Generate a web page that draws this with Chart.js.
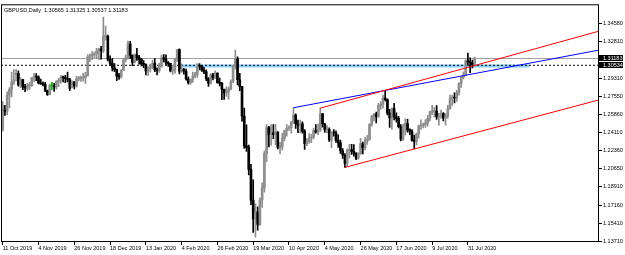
<!DOCTYPE html>
<html>
<head>
<meta charset="utf-8">
<script src="https://cdn.jsdelivr.net/npm/chart.js@4.4.1/dist/chart.umd.min.js"></script>
<style>
  html, body { margin: 0; padding: 0; background: #fff; }
</style>
</head>
<body>
<canvas id="chart" width="625" height="255"></canvas>
<script>
// GBPUSD daily, 11 Oct 2019 .. 5 Aug 2020 (one entry per bar)
const open = [
  1.2437,1.2620,1.2614,1.2769,1.2822,1.2893,1.2960,1.2976,1.2866,1.2916,1.2845,1.2830,1.2858,1.2859,1.2935,1.2942,
  1.2941,1.2885,1.2876,1.2872,1.2813,1.2772,1.2858,1.2858,1.2846,1.2897,1.2910,1.2941,1.2936,1.2925,1.2917,1.2840,1.2895,1.2855,1.2924,1.2925,
  1.2932,1.2935,1.2954,1.3133,1.3146,1.3152,1.3166,1.3192,1.3210,1.3190,1.3330,1.3331,1.3110,1.3074,1.3030,1.3012,1.2950,1.2943,1.3005,1.3106,1.3127,
  1.3258,1.3150,1.3080,1.3153,1.3131,1.3110,1.3067,1.3062,1.2999,1.3022,1.3035,1.3073,1.3010,1.3001,1.3046,1.3125,1.3113,1.3075,1.3072,1.3000,1.3005,1.3110,
  1.3203,1.2997,1.3014,1.2996,1.2922,1.2888,1.2918,1.2950,1.2966,1.3048,1.3044,1.3006,1.2990,1.2925,1.2883,1.2962,1.2935,1.2977,1.2888,1.2880,
  1.2822,1.2788,1.2795,1.2826,1.2899,1.3045,1.3114,1.2915,1.2849,1.2567,1.2282,1.2265,1.2057,1.1763,1.1583,1.1650,1.1530,1.1764,1.1880,1.2210,1.2456,1.2390,
  1.2406,1.2392,1.2414,1.2268,1.2273,1.2355,1.2429,1.2451,1.2458,1.2502,1.2576,1.2491,1.2480,1.2493,1.2421,1.2303,1.2320,1.2357,1.2367,1.2428,1.2413,1.2435,1.2590,
  1.2491,1.2435,1.2441,1.2340,1.2407,1.2405,1.2335,1.2310,1.2235,1.2195,1.2115,1.2240,1.2246,1.2230,1.2210,1.2165,1.2207,1.2305,1.2265,1.2330,
  1.2345,1.2485,1.2565,1.2585,1.2565,1.2670,1.2680,1.2740,1.2725,1.2595,1.2550,1.2640,1.2560,1.2545,1.2465,1.2345,1.2475,1.2495,1.2435,1.2420,1.2335,1.2325,
  1.2400,1.2475,1.2478,1.2485,1.2500,1.2545,1.2605,1.2610,1.2615,1.2560,1.2566,1.2590,1.2550,1.2570,1.2640,1.2730,1.2745,1.2740,1.2795,1.2880,1.2940,1.2960,1.3095,1.3085,1.3076,1.30565
];
const high = [
  1.2708,1.2669,1.2800,1.2841,1.2988,1.3013,1.3012,1.3000,1.2936,1.2920,1.2872,1.2880,1.2889,1.2937,1.2976,1.2974,
  1.2953,1.2922,1.2896,1.2891,1.2816,1.2874,1.2890,1.2880,1.2906,1.2928,1.2956,1.2950,1.2958,1.2989,1.2928,1.2904,1.2898,1.2947,1.2947,1.2949,
  1.2976,1.2986,1.3155,1.3164,1.3185,1.3180,1.3215,1.3213,1.3234,1.3514,1.3428,1.3343,1.3145,1.3117,1.3070,1.3017,1.2976,1.3013,1.3119,1.3152,1.3285,
  1.3283,1.3151,1.3164,1.3215,1.3148,1.3121,1.3098,1.3067,1.3042,1.3064,1.3104,1.3118,1.3028,1.3074,1.3152,1.3155,1.3153,1.3089,1.3072,1.3053,1.3119,1.3206,
  1.3210,1.3068,1.3025,1.3017,1.2943,1.2924,1.2988,1.2986,1.3069,1.3070,1.3050,1.3034,1.3011,1.2935,1.2975,1.2977,1.3000,1.2983,1.2932,1.2890,
  1.2826,1.2846,1.2846,1.2915,1.3052,1.3200,1.3135,1.2976,1.2853,1.2644,1.2483,1.2289,1.2106,1.1958,1.1728,1.1698,1.1784,1.1929,1.2235,1.2487,1.2470,1.2485,
  1.2487,1.2488,1.2420,1.2316,1.2402,1.2432,1.2487,1.2475,1.2516,1.2647,1.2588,1.2530,1.2530,1.2513,1.2437,1.2352,1.2400,1.2393,1.2452,1.2485,1.2490,1.2643,1.2592,
  1.2497,1.2475,1.2455,1.2417,1.2437,1.2427,1.2388,1.2338,1.2255,1.2208,1.2254,1.2296,1.2297,1.2295,1.2219,1.2218,1.2355,1.2318,1.2365,1.2384,
  1.2495,1.2574,1.2594,1.2606,1.2688,1.2707,1.2767,1.2813,1.2732,1.2632,1.2647,1.2688,1.2598,1.2565,1.2487,1.2490,1.2542,1.2535,1.2445,1.2437,1.2385,1.2405,
  1.2482,1.2532,1.2501,1.2533,1.2574,1.2615,1.2669,1.2651,1.2667,1.2594,1.2625,1.2600,1.2593,1.2670,1.2768,1.2768,1.2790,1.2813,1.2887,1.2946,1.2991,1.3107,1.3170,1.3124,1.3102,1.31325
];
const low = [
  1.2423,1.2574,1.2580,1.2646,1.2750,1.2870,1.2904,1.2853,1.2840,1.2819,1.2800,1.2812,1.2820,1.2850,1.2896,1.2907,
  1.2875,1.2870,1.2855,1.2800,1.2766,1.2772,1.2820,1.2803,1.2825,1.2852,1.2883,1.2894,1.2886,1.2893,1.2811,1.2838,1.2828,1.2844,1.2904,1.2900,
  1.2902,1.2880,1.2948,1.3088,1.3106,1.3125,1.3118,1.3107,1.3111,1.3174,1.3294,1.3094,1.3055,1.3000,1.2993,1.2905,1.2917,1.2931,1.3002,1.3086,1.3112,
  1.3118,1.3050,1.3075,1.3101,1.3064,1.3047,1.3030,1.2960,1.2957,1.2990,1.3020,1.2993,1.2962,1.2986,1.3036,1.3085,1.3059,1.3043,1.2991,1.2966,1.2975,1.3087,
  1.2970,1.2985,1.2968,1.2912,1.2873,1.2870,1.2890,1.2933,1.2937,1.3008,1.2995,1.2973,1.2905,1.2850,1.2874,1.2913,1.2925,1.2883,1.2857,1.2725,
  1.2726,1.2756,1.2730,1.2818,1.2888,1.3015,1.2866,1.2810,1.2518,1.2258,1.2230,1.2005,1.1720,1.1453,1.1409,1.1475,1.1520,1.1694,1.1840,1.2130,1.2273,1.2288,
  1.2352,1.2294,1.2253,1.2206,1.2242,1.2329,1.2376,1.2430,1.2403,1.2497,1.2450,1.2408,1.2405,1.2403,1.2247,1.2285,1.2308,1.2313,1.2349,1.2403,1.2390,1.2420,1.2460,
  1.2410,1.2405,1.2325,1.2266,1.2376,1.2315,1.2268,1.2209,1.2161,1.2076,1.2083,1.2164,1.2200,1.2183,1.2151,1.2155,1.2200,1.2206,1.2243,1.2295,
  1.2337,1.2470,1.2522,1.2502,1.2555,1.2632,1.2643,1.2712,1.2579,1.2458,1.2441,1.2531,1.2508,1.2453,1.2330,1.2335,1.2386,1.2413,1.2390,1.2328,1.2252,1.2290,
  1.2355,1.2440,1.2455,1.2458,1.2474,1.2521,1.2580,1.2560,1.2535,1.2480,1.2545,1.2521,1.2479,1.2545,1.2630,1.2670,1.2693,1.2708,1.2767,1.2841,1.2924,1.2955,1.3052,1.2982,1.3028,1.30537
];
const close = [
  1.2670,1.2614,1.2769,1.2822,1.2893,1.2914,1.2976,1.2866,1.2916,1.2845,1.2837,1.2858,1.2859,1.2935,1.2942,1.2941,
  1.2885,1.2876,1.2872,1.2813,1.2772,1.2858,1.2858,1.2846,1.2897,1.2910,1.2941,1.2936,1.2925,1.2917,1.2833,1.2895,1.2855,1.2924,1.2925,1.2932,
  1.2935,1.2954,1.3133,1.3146,1.3152,1.3166,1.3192,1.3210,1.3190,1.3330,1.3331,1.3110,1.3074,1.3030,1.3012,1.2950,1.2943,1.3005,1.3106,1.3127,1.3258,
  1.3150,1.3080,1.3153,1.3131,1.3110,1.3067,1.3062,1.2999,1.3022,1.3035,1.3073,1.3010,1.3001,1.3046,1.3125,1.3113,1.3075,1.3072,1.3000,1.3005,1.3110,1.3203,
  1.2997,1.3014,1.2996,1.2922,1.2888,1.2918,1.2950,1.2966,1.3048,1.3044,1.3006,1.2990,1.2925,1.2883,1.2962,1.2935,1.2977,1.2888,1.2880,1.2822,
  1.2788,1.2795,1.2826,1.2899,1.3045,1.3114,1.2915,1.2849,1.2567,1.2282,1.2265,1.2057,1.1763,1.1583,1.1650,1.1530,1.1764,1.1880,1.2210,1.2456,1.2390,1.2406,
  1.2392,1.2414,1.2268,1.2273,1.2355,1.2429,1.2451,1.2458,1.2502,1.2576,1.2491,1.2480,1.2493,1.2421,1.2303,1.2320,1.2357,1.2367,1.2428,1.2413,1.2435,1.2590,1.2491,
  1.2435,1.2441,1.2340,1.2407,1.2405,1.2335,1.2310,1.2235,1.2195,1.2115,1.2240,1.2246,1.2230,1.2210,1.2165,1.2207,1.2305,1.2265,1.2330,1.2345,
  1.2485,1.2565,1.2585,1.2565,1.2670,1.2680,1.2740,1.2725,1.2595,1.2550,1.2640,1.2560,1.2545,1.2465,1.2345,1.2475,1.2495,1.2435,1.2420,1.2335,1.2325,1.2400,
  1.2475,1.2478,1.2485,1.2500,1.2545,1.2605,1.2610,1.2615,1.2560,1.2566,1.2590,1.2550,1.2570,1.2640,1.2730,1.2745,1.2740,1.2795,1.2880,1.2940,1.2960,1.3095,1.3085,1.3076,1.3056,1.31183
];

// x axis: bar number of each date label and the label itself
const tickBars = [0, 16, 32, 48, 64, 80, 96, 112, 128, 144, 160, 176, 192, 208];
const tickLabels = ['11 Oct 2019', '4 Nov 2019', '26 Nov 2019', '18 Dec 2019', '13 Jan 2020', '4 Feb 2020',
  '26 Feb 2020', '19 Mar 2020', '10 Apr 2020', '4 May 2020', '26 May 2020', '17 Jun 2020', '9 Jul 2020', '31 Jul 2020'];
// price scale labels on the right
const priceTicks = [1.13710, 1.15410, 1.17160, 1.18910, 1.20650, 1.22360, 1.24110, 1.25860, 1.27550, 1.29310, 1.32810, 1.34580];

const xMin = -0.76, xMax = 266.6;
const yMin = 1.1362, yMax = 1.3637;

const bidPrice = 1.31183;
const markPrice = 1.30534;
const headerText = 'GBPUSD,Daily  1.30565 1.31325 1.30537 1.31183';

// drawn objects (bar number, price)
const zoneLine = [{x: 80, y: 1.3046}, {x: 235.5, y: 1.3046}];
const blueTrend = [{x: 130, y: 1.2647}, {x: xMax, y: 1.3199}];
const redUpper = [{x: 142, y: 1.2643}, {x: xMax, y: 1.3380}];
const redLower = [{x: 153, y: 1.2076}, {x: xMax, y: 1.2722}];

const upColor = '#8e8e8e', downColor = '#000000', dojiColor = '#00c000';

function barColor(i) {
  if (close[i] > open[i]) return upColor;
  if (close[i] < open[i]) return downColor;
  return dojiColor;
}

const wickData = high.map((h, i) => ({x: i, y: [low[i], h]}));
const bodyData = open.map((o, i) => ({x: i, y: [o, close[i]]}));
const colors = close.map((c, i) => barColor(i));

function lineSet(data, color, width, dash, order) {
  return {
    type: 'line', data: data, borderColor: color, borderWidth: width,
    borderDash: dash, pointRadius: 0, fill: false, tension: 0, order: order
  };
}

const framePlugin = {
  id: 'frame',
  afterDraw(chart) {
    const {ctx, chartArea: a, scales} = chart;
    ctx.save();
    ctx.strokeStyle = '#000';
    ctx.lineWidth = 1;
    ctx.strokeRect(a.left + 0.5, a.top + 0.5, a.right - a.left - 1, a.bottom - a.top - 1);

    ctx.font = '5.5px "Liberation Sans"';
    ctx.fillStyle = '#000';
    ctx.textBaseline = 'middle';
    ctx.textAlign = 'left';
    ctx.fillText(headerText, a.left + 3, a.top + 6);

    // price boxes on the right scale
    [bidPrice, markPrice].forEach(p => {
      const y = scales.y.getPixelForValue(p);
      ctx.fillStyle = '#000';
      ctx.fillRect(a.right, Math.round(y) - 3, 24, 6);
      ctx.fillStyle = '#fff';
      ctx.fillText(p.toFixed(5), a.right + 4, Math.round(y));
    });
    ctx.restore();
  }
};

new Chart(document.getElementById('chart'), {
  type: 'bar',
  data: {
    datasets: [
      lineSet(redUpper, '#ff0000', 1, [], 0),
      lineSet(redLower, '#ff0000', 1, [], 0),
      lineSet(blueTrend, '#0000ff', 1, [], 0),
      {
        type: 'bar', data: bodyData, backgroundColor: colors, barThickness: 2,
        minBarLength: 1, grouped: false, order: 1
      },
      {
        type: 'bar', data: wickData, backgroundColor: colors, barThickness: 1,
        grouped: false, order: 2
      },
      lineSet([{x: xMin, y: markPrice}, {x: xMax, y: markPrice}], '#000', 1, [2, 2], 3),
      lineSet(zoneLine, '#87cefa', 3, [], 4),
      lineSet([{x: xMin, y: bidPrice}, {x: xMax, y: bidPrice}], '#a0a0a0', 1, [], 5)
    ]
  },
  options: {
    responsive: false,
    animation: false,
    layout: {padding: {left: 1, top: 1, right: 0, bottom: 0}},
    plugins: {legend: {display: false}, tooltip: {enabled: false}},
    scales: {
      x: {
        type: 'linear', min: xMin, max: xMax, offset: false,
        grid: {drawOnChartArea: false, tickLength: 3, color: '#000', offset: false},
        border: {display: false},
        afterBuildTicks: s => { s.ticks = tickBars.map(v => ({value: v})); },
        afterFit: s => { s.height = 13; },
        ticks: {
          autoSkip: false, maxRotation: 0, align: 'start', padding: 0,
          color: '#000', font: {family: 'Liberation Sans', size: 5.5},
          callback: (v, i) => tickLabels[i]
        }
      },
      y: {
        position: 'right', min: yMin, max: yMax,
        grid: {drawOnChartArea: false, tickLength: 3, color: '#000'},
        border: {display: false},
        afterBuildTicks: s => { s.ticks = priceTicks.map(v => ({value: v})); },
        afterFit: s => { s.width = 26; },
        ticks: {
          autoSkip: false, padding: 1, color: '#000',
          font: {family: 'Liberation Sans', size: 5.5},
          callback: v => v.toFixed(5)
        }
      }
    }
  },
  plugins: [framePlugin]
});
</script>
</body>
</html>
